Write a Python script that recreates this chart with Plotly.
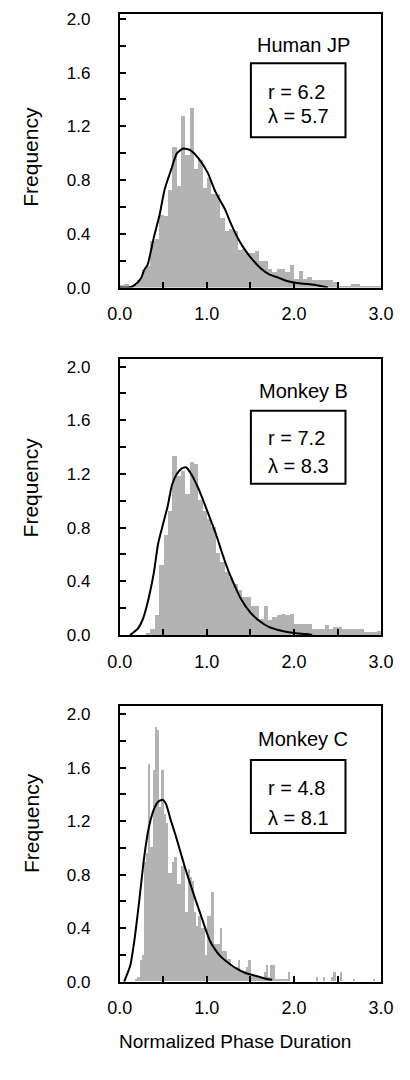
import plotly.graph_objects as go

W, H = 410, 1080

# ---------------- data ----------------
panel_names = ["Human JP", "Monkey B", "Monkey C"]
r_values = ["6.2", "7.2", "4.8"]
lambda_values = ["5.7", "8.3", "8.1"]

bin_width = [0.05, 0.05, 0.025]

human_jp_hist = [
    0.02, 0.025, 0.01, 0.02, 0.06, 0.13, 0.16, 0.35, 0.36, 0.54, 0.53, 0.73,
    1.05, 0.76, 1.28, 0.99, 1.34, 0.88, 0.95, 0.74, 0.82, 0.70, 0.70, 0.52,
    0.42, 0.44, 0.42, 0.28, 0.29,
    0.26, 0.26, 0.275, 0.20, 0.20, 0.14, 0.115, 0.14, 0.14, 0.115, 0.17,
    0.066, 0.127, 0.066, 0.078, 0.054, 0.054, 0.054, 0.054, 0.054, 0.04,
    0.01, 0.01, 0.01, 0.025, 0.025, 0.01, 0.01, 0.01, 0.01, 0.01,
]

monkey_b_hist = [
    0, 0, 0, 0, 0, 0, 0.007, 0.04, 0.15, 0.52, 0.74, 0.92, 1.33,
    1.18, 1.22, 1.05, 1.29, 1.27, 1.00, 0.92, 0.86, 0.80,
    0.61, 0.54, 0.47, 0.42, 0.38, 0.33, 0.28,
    0.28, 0.216, 0.216, 0.12, 0.216, 0.11, 0.13, 0.147, 0.155, 0.147,
    0.155, 0.08, 0.08, 0.08, 0.08, 0.04, 0.04, 0.04, 0.07, 0.045,
    0.055, 0.055, 0.04, 0.04, 0.04, 0.04, 0.04, 0.02, 0.02, 0.02, 0.025,
]

monkey_c_hist = [
    0, 0, 0, 0, 0, 0, 0,
    0.02, 0.03, 0.16, 0.20,
    0.89, 0.96, 1.62, 1.00, 1.58, 1.90, 1.88, 1.30, 1.58,
    1.25, 1.18, 0.81, 0.81, 0.89, 0.93, 0.73, 0.73, 0.86, 0.86,
    0.52, 0.84, 0.78, 0.75, 0.52, 0.41, 0.49, 0.40, 0.40, 0.20,
    0.49, 0.49, 0.67, 0.28, 0.28, 0.28, 0.40, 0.23, 0.23, 0.17,
    0.17, 0.11, 0.11, 0.11, 0.16, 0.08, 0.08, 0.08, 0.11, 0.16,
    0.05, 0.05, 0.03, 0.03, 0.03, 0.03, 0.07, 0.12, 0.03, 0.12,
    0.12, 0.02, 0.02, 0.02, 0.02, 0.02, 0.02, 0.07, 0, 0,
    0, 0, 0, 0, 0, 0, 0, 0, 0, 0,
    0.03, 0, 0, 0.03, 0, 0, 0, 0.03, 0.07, 0,
    0, 0.07, 0, 0, 0, 0, 0, 0.02, 0, 0,
    0, 0, 0, 0, 0, 0, 0.02, 0, 0, 0,
]

human_jp_curve_x = [0.0, 0.107, 0.16, 0.24, 0.28, 0.32, 0.35, 0.39, 0.46, 0.515, 0.586, 0.657,
                    0.728, 0.817, 0.924, 1.013, 1.10, 1.21, 1.28, 1.37, 1.46, 1.534, 1.624,
                    1.71, 1.82, 1.93, 2.036, 2.18, 2.32, 2.39]
human_jp_curve_y = [0.0, 0.0, 0.015, 0.065, 0.13, 0.17, 0.25, 0.37, 0.55, 0.73, 0.87, 1.0,
                    1.035, 1.02, 0.945, 0.85, 0.71, 0.58, 0.47, 0.35, 0.26, 0.20, 0.14,
                    0.10, 0.074, 0.047, 0.034, 0.025, 0.01, 0.0]

monkey_b_curve_x = [0.118, 0.21, 0.26, 0.315, 0.39, 0.44, 0.494, 0.55, 0.60, 0.655, 0.709, 0.76,
                    0.82, 0.89, 0.96, 1.03, 1.10, 1.175, 1.246, 1.318, 1.39, 1.50, 1.604,
                    1.71, 1.855, 2.0, 2.14, 2.21]
monkey_b_curve_y = [0.0, 0.05, 0.11, 0.23, 0.46, 0.68, 0.82, 0.96, 1.12, 1.20, 1.24, 1.25,
                    1.20, 1.11, 1.0, 0.88, 0.76, 0.61, 0.48, 0.37, 0.27, 0.167, 0.105,
                    0.061, 0.032, 0.015, 0.007, 0.0]

monkey_c_curve_x = [0.05, 0.08, 0.12, 0.17, 0.226, 0.28, 0.333, 0.387, 0.44, 0.49, 0.53, 0.584,
                    0.638, 0.692, 0.746, 0.80, 0.871, 0.943, 0.996, 1.032, 1.086, 1.157,
                    1.229, 1.337, 1.444, 1.588, 1.70, 1.75]
monkey_c_curve_y = [0.0, 0.05, 0.12, 0.32, 0.62, 0.93, 1.15, 1.28, 1.345, 1.36, 1.33, 1.21,
                    1.10, 0.98, 0.86, 0.75, 0.61, 0.475, 0.373, 0.311, 0.25, 0.19,
                    0.15, 0.10, 0.066, 0.04, 0.02, 0.015]

x_tick_vals = [0.0, 0.5, 1.0, 1.5, 2.0, 2.5, 3.0]
x_tick_text = ["0.0", "", "1.0", "", "2.0", "", "3.0"]
y_tick_vals = [0.0, 0.2, 0.4, 0.6, 0.8, 1.0, 1.2, 1.4, 1.6, 1.8, 2.0]
y_tick_text = ["0.0", "", "0.4", "", "0.8", "", "1.2", "", "1.6", "", "2.0"]

hists = [human_jp_hist, monkey_b_hist, monkey_c_hist]
curves = [(human_jp_curve_x, human_jp_curve_y),
          (monkey_b_curve_x, monkey_b_curve_y),
          (monkey_c_curve_x, monkey_c_curve_y)]

# ---------------- layout geometry (pixels) ----------------
FONT = "Liberation Sans, Arial, sans-serif"
X_LEFT, X_RIGHT = 114, 393
panels = [
    dict(top=10, bottom=287.3, ymax=2.037, name_y=42, box=(60, 135), r_y=89, l_y=113, freq_y=155),
    dict(top=360, bottom=639.3, ymax=2.054, name_y=392, box=(412, 486), r_y=440, l_y=468, freq_y=490),
    dict(top=711.7, bottom=990.7, ymax=2.056, name_y=745, box=(766, 840), r_y=794, l_y=825, freq_y=830),
]


def px(x):
    return x / W


def py(y):
    return 1 - y / H


fig = go.Figure()
layout = dict(
    width=W, height=H,
    margin=dict(l=0, r=0, t=0, b=0),
    paper_bgcolor="white", plot_bgcolor="white",
    showlegend=False, bargap=0,
    font=dict(family=FONT, color="black"),
    annotations=[], shapes=[],
)

for i, p in enumerate(panels):
    n = i + 1
    xa = "x" if n == 1 else f"x{n}"
    ya = "y" if n == 1 else f"y{n}"
    w = bin_width[i]
    vals = hists[i]
    centers = [(k + 0.5) * w for k in range(len(vals))]
    fig.add_trace(go.Bar(x=centers, y=vals, width=w, marker=dict(color="#b3b3b3", line=dict(width=0)),
                         xaxis=xa, yaxis=ya, hoverinfo="skip"))
    cx, cy = curves[i]
    fig.add_trace(go.Scatter(x=cx, y=cy, mode="lines", line=dict(color="black", width=2, shape="spline", smoothing=0.6),
                             xaxis=xa, yaxis=ya, hoverinfo="skip"))

    xkey = "xaxis" if n == 1 else f"xaxis{n}"
    ykey = "yaxis" if n == 1 else f"yaxis{n}"
    layout[xkey] = dict(
        domain=[px(X_LEFT), px(X_RIGHT)], anchor=ya, range=[0, 3.0],
        tickvals=x_tick_vals, ticktext=x_tick_text, ticks="inside", ticklen=6, tickwidth=2,
        tickcolor="black", showline=True, linecolor="black", linewidth=2, mirror=True,
        showgrid=False, zeroline=False, tickfont=dict(size=18, family=FONT, color="black"),
        ticklabelstandoff=9, fixedrange=True,
    )
    layout[ykey] = dict(
        domain=[py(p["bottom"]), py(p["top"])], anchor=xa, range=[0, p["ymax"]],
        tickvals=y_tick_vals, ticktext=y_tick_text, ticks="inside", ticklen=6, tickwidth=2,
        tickcolor="black", showline=True, linecolor="black", linewidth=2, mirror=True,
        showgrid=False, zeroline=False, tickfont=dict(size=17, family=FONT, color="black"),
        ticklabelstandoff=24, fixedrange=True,
    )

    ann = layout["annotations"]
    ann.append(dict(text=panel_names[i], x=px(310), y=py(p["name_y"]), xref="paper", yref="paper",
                    xanchor="center", yanchor="middle", showarrow=False, font=dict(size=20, family=FONT)))
    ann.append(dict(text=f"r = {r_values[i]}", x=px(303), y=py(p["r_y"]), xref="paper", yref="paper",
                    xanchor="center", yanchor="middle", showarrow=False, font=dict(size=20, family=FONT)))
    ann.append(dict(text=f"λ = {lambda_values[i]}", x=px(305), y=py(p["l_y"]), xref="paper", yref="paper",
                    xanchor="center", yanchor="middle", showarrow=False, font=dict(size=20, family=FONT)))
    ann.append(dict(text="Frequency", x=px(19), y=py(p["freq_y"]), xref="paper", yref="paper",
                    xanchor="center", yanchor="middle", textangle=-90, showarrow=False,
                    font=dict(size=21, family=FONT)))
    layout["shapes"].append(dict(type="rect", xref="paper", yref="paper",
                                 x0=px(254), x1=px(355), y0=py(p["box"][1]), y1=py(p["box"][0]),
                                 line=dict(color="black", width=2), fillcolor="rgba(0,0,0,0)"))

layout["annotations"].append(dict(text="Normalized Phase Duration", x=px(237), y=py(1051), xref="paper", yref="paper",
                                  xanchor="center", yanchor="middle", showarrow=False,
                                  font=dict(size=19, family=FONT)))

fig.update_layout(**layout)
fig.write_html("out.html")
